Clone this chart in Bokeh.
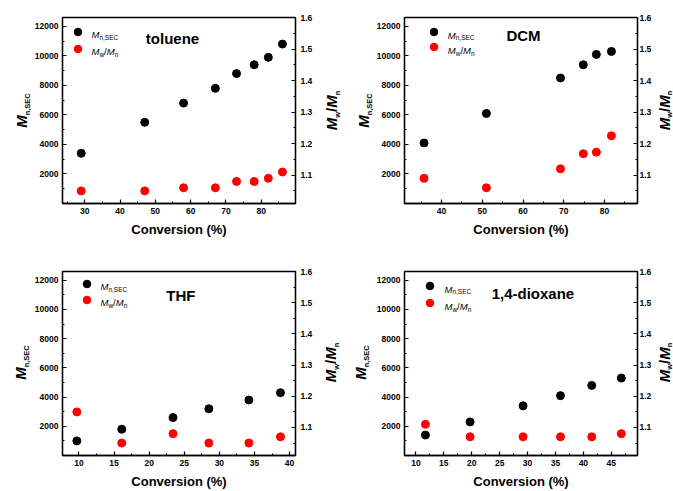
import math
from bokeh.plotting import figure
from bokeh.models import Range1d, LinearAxis, FixedTicker, Label, Legend, LegendItem
from bokeh.layouts import column, row
from bokeh.embed import file_html
from bokeh.resources import INLINE

# ---------------- data ----------------
tol_conv = [29, 47, 58, 67, 73, 78, 82, 86]
tol_mn = [3400, 5500, 6800, 7800, 8800, 9400, 9900, 10800]
tol_pdi = [1.05, 1.05, 1.06, 1.06, 1.08, 1.08, 1.09, 1.11]

dcm_conv = [35.7, 51.0, 69.2, 74.8, 78.0, 81.7]
dcm_mn = [4100, 6100, 8500, 9400, 10100, 10300]
dcm_pdi = [1.09, 1.06, 1.12, 1.168, 1.173, 1.225]

thf_conv = [9.7, 16.1, 23.4, 28.5, 34.2, 38.7]
thf_mn = [1000, 1800, 2600, 3200, 3800, 4300]
thf_pdi = [1.15, 1.05, 1.08, 1.05, 1.05, 1.07]

dio_conv = [11.7, 19.7, 29.2, 35.9, 41.5, 46.8]
dio_mn = [1400, 2300, 3400, 4100, 4800, 5300]
dio_pdi = [1.11, 1.07, 1.07, 1.07, 1.07, 1.08]

mn_ticks = [2000, 4000, 6000, 8000, 10000, 12000]
mn_minor = [1000, 3000, 5000, 7000, 9000, 11000]
pdi_ticks = [1.1, 1.2, 1.3, 1.4, 1.5, 1.6]
pdi_minor = [1.05, 1.15, 1.25, 1.35, 1.45, 1.55]

x_title = "Conversion (%)"

FONT = "Liberation Sans"
W_REG = {"M": 833, "n": 556, ",": 278, "S": 667, "E": 667, "C": 722, "w": 722, "/": 278}
W_BOLD = {"M": 833, "n": 611, ",": 278, "S": 667, "E": 667, "C": 722, "w": 778, "/": 278}


def tw(s, size, bold):
    t = W_BOLD if bold else W_REG
    return sum(t.get(c, 556) for c in s) * size / 1000.0


def rich(p, pieces, x, y, rotated=False, bold=False):
    pos = 0.0
    for txt, size, italic, shift in pieces:
        st = ("bold " if bold else "") + ("italic" if italic else "")
        st = st.strip() or "normal"
        if rotated:
            # centred across the text direction; subscripts sit further right
            lab = Label(x=x + shift, y=y + pos, x_units="screen", y_units="screen", text=txt,
                        text_font=FONT, text_font_size=f"{size}px", text_font_style=st,
                        text_color="black", text_align="left", text_baseline="middle",
                        angle=math.pi / 2)
        else:
            lab = Label(x=x + pos, y=y - shift, x_units="screen", y_units="screen", text=txt,
                        text_font=FONT, text_font_size=f"{size}px", text_font_style=st,
                        text_color="black", text_align="left", text_baseline="alphabetic")
        p.add_layout(lab)
        pos += tw(txt, size, bold)


def legend_dot(p, r, cx, cy):
    p.add_layout(Legend(items=[LegendItem(label=" ", renderers=[r])],
                        location=(cx - 9.5, cy - 9.5), glyph_width=19, glyph_height=19,
                        label_width=0, label_height=19, label_standoff=0, padding=0,
                        margin=0, spacing=0, border_line_alpha=0, background_fill_alpha=0,
                        label_text_font_size="1px"))


def style_axis(ax, standoff=5):
    ax.axis_line_width = 1.3
    ax.axis_line_color = "black"
    ax.major_tick_in = 4
    ax.major_tick_out = 0
    ax.minor_tick_in = 2
    ax.minor_tick_out = 0
    ax.major_tick_line_width = 1.2
    ax.minor_tick_line_width = 1.0
    ax.major_label_text_font = FONT
    ax.major_label_text_font_style = "bold"
    ax.major_label_text_font_size = "8.5px"
    ax.major_label_text_color = "black"
    ax.major_label_standoff = standoff


def blank(W, H):
    b = figure(width=W, height=H, x_range=Range1d(0, 1), y_range=Range1d(0, 1),
               min_border=0, x_axis_location=None, y_axis_location=None,
               output_backend="svg", toolbar_location=None, tools="")
    b.outline_line_color = None
    b.grid.visible = False
    b.background_fill_color = "white"
    b.border_fill_color = "white"
    return b


LEFT_PIECES = [("M", 15, True, 0), ("n,SEC", 7.5, False, 5.6)]
RIGHT_PIECES = [("M", 15, True, 0), ("w", 7.5, False, 5.6), ("/", 15, False, 0),
                ("M", 15, True, 0), ("n", 7.5, False, 5.6)]
FRAME_H = 186


def axis_title_fig(W, H, pieces, xc):
    # blank strip whose frame lines up with the neighbouring plot frame
    b = blank(W, H)
    tot = sum(tw(t, s, True) for t, s, _, _ in pieces)
    rich(b, pieces, xc, FRAME_H / 2 - tot / 2, rotated=True, bold=True)
    return b


def panel(conv, mn, pdi, xr, xmaj, xmin, W, H, bl, br, bt, bb, title, tpos, dots, textx,
          rstand):
    p = figure(width=W, height=H, x_range=Range1d(*xr), y_range=Range1d(0, 12600),
               min_border_left=bl, min_border_right=br, min_border_top=bt, min_border_bottom=bb,
               output_backend="svg", toolbar_location=None, tools="")
    p.extra_y_ranges = {"pdi": Range1d(1.01, 1.6005)}
    p.xgrid.visible = False
    p.ygrid.visible = False
    p.outline_line_color = "black"
    p.outline_line_width = 1.3
    p.background_fill_color = "white"
    p.border_fill_color = "white"

    p.xaxis.ticker = FixedTicker(ticks=xmaj, minor_ticks=xmin)
    p.yaxis.ticker = FixedTicker(ticks=mn_ticks, minor_ticks=mn_minor)
    style_axis(p.xaxis[0], 4)
    style_axis(p.yaxis[0], 4)
    xa = p.xaxis[0]
    xa.axis_label = x_title
    xa.axis_label_text_font = FONT
    xa.axis_label_text_font_style = "bold"
    xa.axis_label_text_font_size = "13px"
    xa.axis_label_text_color = "black"
    xa.axis_label_standoff = 5
    rax = LinearAxis(y_range_name="pdi", ticker=FixedTicker(ticks=pdi_ticks, minor_ticks=pdi_minor))
    style_axis(rax, rstand)
    p.add_layout(rax, "right")

    rb = p.scatter(conv, mn, size=8, color="black")
    rr = p.scatter(conv, pdi, size=8, color="red", y_range_name="pdi")

    (bx, by), (rx, ry) = dots
    legend_dot(p, rb, bx, by)
    legend_dot(p, rr, rx, ry)
    rich(p, [("M", 9.5, True, 0), ("n,SEC", 6.5, False, 2.5)], textx, by - 3.4)
    rich(p, [("M", 9.5, True, 0), ("w", 6.5, False, 2.5), ("/", 9.5, False, 0),
             ("M", 9.5, True, 0), ("n", 6.5, False, 2.5)], textx, ry - 3.4)

    p.add_layout(Label(x=tpos[0], y=tpos[1], x_units="screen", y_units="screen", text=title,
                       text_font=FONT, text_font_size="15px", text_font_style="bold",
                       text_align="center", text_baseline="middle", text_color="black"))
    return p


H1, H2 = 245, 246

p1 = panel(tol_conv, tol_mn, tol_pdi, (23.7, 89.7), [30, 40, 50, 60, 70, 80],
           [25, 35, 45, 55, 65, 75, 85], 284, H1, 28, 18, 17, 42, "toluene", (110, 165.3),
           [(15, 172), (15, 155)], 29, 5)
p2 = panel(dcm_conv, dcm_mn, dcm_pdi, (30.9, 88.1), [40, 50, 60, 70, 80],
           [35, 45, 55, 65, 75, 85], 281, H1, 28, 15, 17, 42, "DCM", (119, 167.7),
           [(29.3, 171.7), (29.3, 156.4)], 43.3, 2)
p3 = panel(thf_conv, thf_mn, thf_pdi, (7.66, 40.84), [10, 15, 20, 25, 30, 35, 40],
           [12.5, 17.5, 22.5, 27.5, 32.5, 37.5], 284, H2, 28, 18, 26, 34, "THF",
           (118.4, 160.3), [(24, 172), (24, 156)], 38, 5)
p4 = panel(dio_conv, dio_mn, dio_pdi, (7.95, 49.7), [10, 15, 20, 25, 30, 35, 40, 45],
           [12.5, 17.5, 22.5, 27.5, 32.5, 37.5, 42.5, 47.5], 281, H2, 28, 15, 26, 34,
           "1,4-dioxane", (128.4, 162.3), [(25, 169.6), (25, 152.3)], 40, 2)

l1 = axis_title_fig(31, H1, LEFT_PIECES, 21)
r1 = axis_title_fig(27, H1, RIGHT_PIECES, 16)
l2 = axis_title_fig(31, H1, LEFT_PIECES, 21)
r2 = axis_title_fig(19, H1, RIGHT_PIECES, 9.5)
l3 = axis_title_fig(31, H2, LEFT_PIECES, 20)
r3 = axis_title_fig(27, H2, RIGHT_PIECES, 15)
l4 = axis_title_fig(31, H2, LEFT_PIECES, 18)
r4 = axis_title_fig(19, H2, RIGHT_PIECES, 9.5)

layout = column(row(l1, p1, r1, l2, p2, r2), row(l3, p3, r3, l4, p4, r4))
open("out.html", "w").write(file_html(layout, INLINE))
